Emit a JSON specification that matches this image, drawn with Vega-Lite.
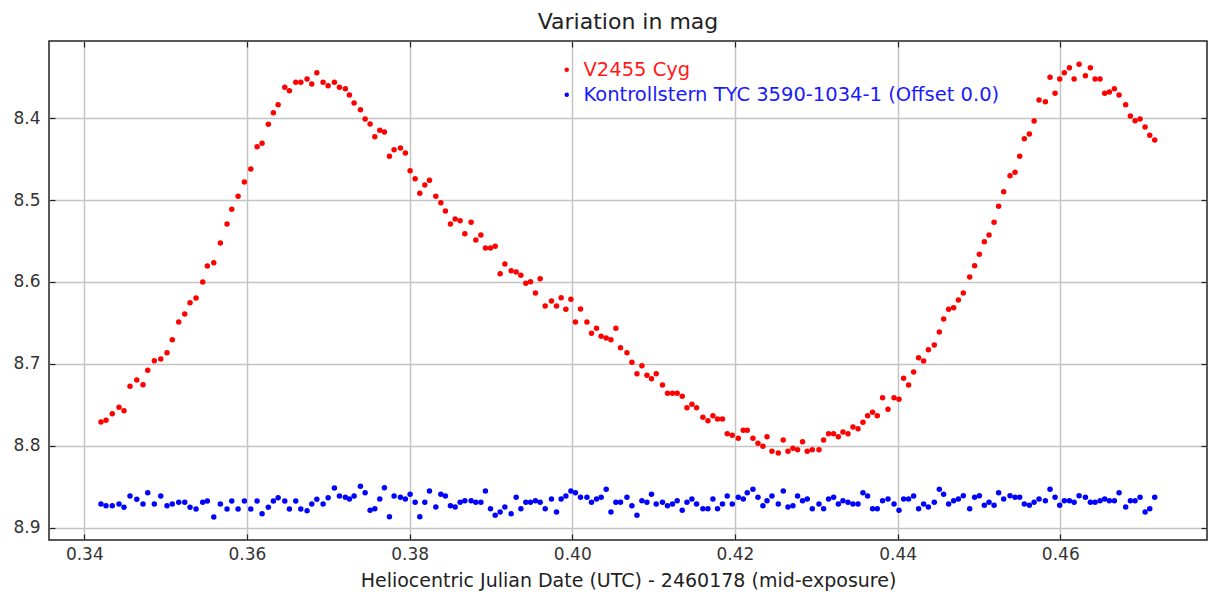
{
"$schema": "https://vega.github.io/schema/vega-lite/v6.json",
"width": 1158, "height": 499,
"autosize": {"type": "none"},
"padding": {"left": 49, "top": 41, "right": 3, "bottom": 57},
"background": "white",
"title": {"text": "Variation in mag", "font": "DejaVu Sans", "fontSize": 22, "fontWeight": "normal", "color": "#222", "offset": 6, "anchor": "middle"},
"config": {"view": {"stroke": "#222", "strokeWidth": 1.5}, "font": "DejaVu Sans"},
"data": {"values": [
{"hjd":0.34205,"var":8.7711,"chk":8.8713},{"hjd":0.34267,"var":8.7690,"chk":8.8734},{"hjd":0.34344,"var":8.7609,"chk":8.8734},{"hjd":0.34427,"var":8.7531,"chk":8.8713},{"hjd":0.34488,"var":8.7573,"chk":8.8753},{"hjd":0.34562,"var":8.7275,"chk":8.8615},{"hjd":0.34645,"var":8.7198,"chk":8.8655},{"hjd":0.34722,"var":8.7255,"chk":8.8713},{"hjd":0.34780,"var":8.7079,"chk":8.8575},{"hjd":0.34861,"var":8.6962,"chk":8.8713},
{"hjd":0.34940,"var":8.6941,"chk":8.8615},{"hjd":0.35017,"var":8.6864,"chk":8.8734},{"hjd":0.35082,"var":8.6705,"chk":8.8713},{"hjd":0.35161,"var":8.6489,"chk":8.8692},{"hjd":0.35235,"var":8.6391,"chk":8.8692},{"hjd":0.35300,"var":8.6253,"chk":8.8753},{"hjd":0.35374,"var":8.6196,"chk":8.8774},{"hjd":0.35456,"var":8.6000,"chk":8.8692},{"hjd":0.35513,"var":8.5805,"chk":8.8676},{"hjd":0.35592,"var":8.5764,"chk":8.8872},
{"hjd":0.35673,"var":8.5524,"chk":8.8713},{"hjd":0.35755,"var":8.5292,"chk":8.8774},{"hjd":0.35813,"var":8.5112,"chk":8.8676},{"hjd":0.35891,"var":8.4953,"chk":8.8774},{"hjd":0.35968,"var":8.4778,"chk":8.8676},{"hjd":0.36047,"var":8.4620,"chk":8.8774},{"hjd":0.36124,"var":8.4347,"chk":8.8676},{"hjd":0.36186,"var":8.4305,"chk":8.8831},{"hjd":0.36263,"var":8.4073,"chk":8.8753},{"hjd":0.36325,"var":8.3932,"chk":8.8676},
{"hjd":0.36383,"var":8.3834,"chk":8.8636},{"hjd":0.36465,"var":8.3621,"chk":8.8676},{"hjd":0.36522,"var":8.3663,"chk":8.8774},{"hjd":0.36600,"var":8.3560,"chk":8.8676},{"hjd":0.36662,"var":8.3560,"chk":8.8774},{"hjd":0.36739,"var":8.3520,"chk":8.8795},{"hjd":0.36797,"var":8.3581,"chk":8.8713},{"hjd":0.36859,"var":8.3443,"chk":8.8655},{"hjd":0.36936,"var":8.3560,"chk":8.8713},{"hjd":0.36998,"var":8.3602,"chk":8.8636},
{"hjd":0.37075,"var":8.3560,"chk":8.8517},{"hjd":0.37137,"var":8.3621,"chk":8.8615},{"hjd":0.37210,"var":8.3638,"chk":8.8631},{"hjd":0.37260,"var":8.3715,"chk":8.8652},{"hjd":0.37317,"var":8.3813,"chk":8.8615},{"hjd":0.37395,"var":8.3895,"chk":8.8497},{"hjd":0.37453,"var":8.4009,"chk":8.8575},{"hjd":0.37514,"var":8.4070,"chk":8.8790},{"hjd":0.37572,"var":8.4225,"chk":8.8770},{"hjd":0.37633,"var":8.4147,"chk":8.8652},
{"hjd":0.37690,"var":8.4167,"chk":8.8514},{"hjd":0.37752,"var":8.4464,"chk":8.8868},{"hjd":0.37809,"var":8.4384,"chk":8.8615},{"hjd":0.37887,"var":8.4363,"chk":8.8631},{"hjd":0.37948,"var":8.4424,"chk":8.8652},{"hjd":0.38006,"var":8.4640,"chk":8.8594},{"hjd":0.38068,"var":8.4738,"chk":8.8692},{"hjd":0.38125,"var":8.4916,"chk":8.8868},{"hjd":0.38187,"var":8.4815,"chk":8.8692},{"hjd":0.38244,"var":8.4758,"chk":8.8554},
{"hjd":0.38322,"var":8.4953,"chk":8.8750},{"hjd":0.38384,"var":8.5031,"chk":8.8594},{"hjd":0.38440,"var":8.5133,"chk":8.8615},{"hjd":0.38502,"var":8.5292,"chk":8.8734},{"hjd":0.38560,"var":8.5230,"chk":8.8750},{"hjd":0.38621,"var":8.5251,"chk":8.8692},{"hjd":0.38679,"var":8.5410,"chk":8.8673},{"hjd":0.38756,"var":8.5271,"chk":8.8673},{"hjd":0.38814,"var":8.5487,"chk":8.8692},{"hjd":0.38876,"var":8.5426,"chk":8.8692},
{"hjd":0.38932,"var":8.5585,"chk":8.8554},{"hjd":0.38994,"var":8.5585,"chk":8.8770},{"hjd":0.39052,"var":8.5564,"chk":8.8851},{"hjd":0.39113,"var":8.5899,"chk":8.8811},{"hjd":0.39171,"var":8.5780,"chk":8.8750},{"hjd":0.39248,"var":8.5862,"chk":8.8831},{"hjd":0.39310,"var":8.5878,"chk":8.8631},{"hjd":0.39368,"var":8.5918,"chk":8.8770},{"hjd":0.39429,"var":8.6016,"chk":8.8692},{"hjd":0.39486,"var":8.5997,"chk":8.8692},
{"hjd":0.39547,"var":8.6135,"chk":8.8673},{"hjd":0.39605,"var":8.5960,"chk":8.8692},{"hjd":0.39667,"var":8.6294,"chk":8.8770},{"hjd":0.39744,"var":8.6232,"chk":8.8652},{"hjd":0.39806,"var":8.6294,"chk":8.8811},{"hjd":0.39863,"var":8.6192,"chk":8.8652},{"hjd":0.39921,"var":8.6334,"chk":8.8615},{"hjd":0.39983,"var":8.6212,"chk":8.8554},{"hjd":0.40039,"var":8.6489,"chk":8.8575},{"hjd":0.40101,"var":8.6330,"chk":8.8631},
{"hjd":0.40180,"var":8.6489,"chk":8.8631},{"hjd":0.40236,"var":8.6627,"chk":8.8692},{"hjd":0.40298,"var":8.6566,"chk":8.8652},{"hjd":0.40355,"var":8.6664,"chk":8.8631},{"hjd":0.40417,"var":8.6685,"chk":8.8533},{"hjd":0.40475,"var":8.6705,"chk":8.8811},{"hjd":0.40536,"var":8.6566,"chk":8.8692},{"hjd":0.40593,"var":8.6803,"chk":8.8692},{"hjd":0.40672,"var":8.6864,"chk":8.8631},{"hjd":0.40733,"var":8.6981,"chk":8.8734},
{"hjd":0.40795,"var":8.7121,"chk":8.8851},{"hjd":0.40856,"var":8.7023,"chk":8.8673},{"hjd":0.40918,"var":8.7140,"chk":8.8692},{"hjd":0.40974,"var":8.7182,"chk":8.8594},{"hjd":0.41032,"var":8.7121,"chk":8.8713},{"hjd":0.41109,"var":8.7259,"chk":8.8692},{"hjd":0.41171,"var":8.7360,"chk":8.8734},{"hjd":0.41232,"var":8.7360,"chk":8.8713},{"hjd":0.41290,"var":8.7360,"chk":8.8673},{"hjd":0.41352,"var":8.7397,"chk":8.8790},
{"hjd":0.41410,"var":8.7536,"chk":8.8692},{"hjd":0.41471,"var":8.7495,"chk":8.8652},{"hjd":0.41528,"var":8.7536,"chk":8.8713},{"hjd":0.41606,"var":8.7654,"chk":8.8770},{"hjd":0.41668,"var":8.7695,"chk":8.8770},{"hjd":0.41729,"var":8.7634,"chk":8.8652},{"hjd":0.41786,"var":8.7674,"chk":8.8770},{"hjd":0.41847,"var":8.7674,"chk":8.8713},{"hjd":0.41905,"var":8.7854,"chk":8.8615},{"hjd":0.41967,"var":8.7873,"chk":8.8713},
{"hjd":0.42041,"var":8.7910,"chk":8.8631},{"hjd":0.42102,"var":8.7812,"chk":8.8652},{"hjd":0.42151,"var":8.7812,"chk":8.8575},{"hjd":0.42221,"var":8.7910,"chk":8.8533},{"hjd":0.42283,"var":8.7971,"chk":8.8631},{"hjd":0.42344,"var":8.8008,"chk":8.8734},{"hjd":0.42394,"var":8.7891,"chk":8.8673},{"hjd":0.42455,"var":8.8069,"chk":8.8615},{"hjd":0.42533,"var":8.8090,"chk":8.8713},{"hjd":0.42594,"var":8.7931,"chk":8.8554},
{"hjd":0.42652,"var":8.8069,"chk":8.8750},{"hjd":0.42713,"var":8.8032,"chk":8.8734},{"hjd":0.42770,"var":8.8049,"chk":8.8615},{"hjd":0.42831,"var":8.7952,"chk":8.8673},{"hjd":0.42889,"var":8.8069,"chk":8.8652},{"hjd":0.42951,"var":8.8049,"chk":8.8770},{"hjd":0.43033,"var":8.8049,"chk":8.8713},{"hjd":0.43090,"var":8.7931,"chk":8.8770},{"hjd":0.43151,"var":8.7854,"chk":8.8652},{"hjd":0.43213,"var":8.7854,"chk":8.8631},
{"hjd":0.43271,"var":8.7891,"chk":8.8713},{"hjd":0.43328,"var":8.7833,"chk":8.8673},{"hjd":0.43390,"var":8.7854,"chk":8.8692},{"hjd":0.43451,"var":8.7772,"chk":8.8713},{"hjd":0.43513,"var":8.7793,"chk":8.8713},{"hjd":0.43574,"var":8.7715,"chk":8.8575},{"hjd":0.43631,"var":8.7634,"chk":8.8615},{"hjd":0.43692,"var":8.7592,"chk":8.8770},{"hjd":0.43750,"var":8.7634,"chk":8.8770},{"hjd":0.43815,"var":8.7414,"chk":8.8673},
{"hjd":0.43882,"var":8.7556,"chk":8.8652},{"hjd":0.43956,"var":8.7414,"chk":8.8713},{"hjd":0.44017,"var":8.7434,"chk":8.8790},{"hjd":0.44074,"var":8.7177,"chk":8.8652},{"hjd":0.44135,"var":8.7259,"chk":8.8652},{"hjd":0.44197,"var":8.7100,"chk":8.8615},{"hjd":0.44258,"var":8.6925,"chk":8.8770},{"hjd":0.44320,"var":8.6966,"chk":8.8713},{"hjd":0.44378,"var":8.6828,"chk":8.8750},{"hjd":0.44451,"var":8.6770,"chk":8.8692},
{"hjd":0.44513,"var":8.6611,"chk":8.8533},{"hjd":0.44566,"var":8.6452,"chk":8.8594},{"hjd":0.44627,"var":8.6334,"chk":8.8713},{"hjd":0.44689,"var":8.6314,"chk":8.8673},{"hjd":0.44747,"var":8.6220,"chk":8.8652},{"hjd":0.44808,"var":8.6135,"chk":8.8611},{"hjd":0.44886,"var":8.5939,"chk":8.8770},{"hjd":0.44947,"var":8.5801,"chk":8.8631},{"hjd":0.45005,"var":8.5662,"chk":8.8611},{"hjd":0.45066,"var":8.5508,"chk":8.8729},
{"hjd":0.45124,"var":8.5426,"chk":8.8692},{"hjd":0.45186,"var":8.5271,"chk":8.8729},{"hjd":0.45242,"var":8.5075,"chk":8.8575},{"hjd":0.45304,"var":8.4897,"chk":8.8652},{"hjd":0.45382,"var":8.4701,"chk":8.8611},{"hjd":0.45444,"var":8.4660,"chk":8.8631},{"hjd":0.45501,"var":8.4464,"chk":8.8631},{"hjd":0.45558,"var":8.4249,"chk":8.8713},{"hjd":0.45620,"var":8.4192,"chk":8.8729},{"hjd":0.45678,"var":8.4033,"chk":8.8692},
{"hjd":0.45739,"var":8.3776,"chk":8.8652},{"hjd":0.45817,"var":8.3797,"chk":8.8673},{"hjd":0.45874,"var":8.3499,"chk":8.8533},{"hjd":0.45936,"var":8.3695,"chk":8.8631},{"hjd":0.45993,"var":8.3520,"chk":8.8729},{"hjd":0.46050,"var":8.3443,"chk":8.8673},{"hjd":0.46112,"var":8.3382,"chk":8.8673},{"hjd":0.46170,"var":8.3520,"chk":8.8692},{"hjd":0.46231,"var":8.3340,"chk":8.8611},{"hjd":0.46309,"var":8.3479,"chk":8.8631},
{"hjd":0.46370,"var":8.3382,"chk":8.8692},{"hjd":0.46428,"var":8.3520,"chk":8.8692},{"hjd":0.46489,"var":8.3520,"chk":8.8673},{"hjd":0.46546,"var":8.3695,"chk":8.8652},{"hjd":0.46604,"var":8.3679,"chk":8.8673},{"hjd":0.46665,"var":8.3638,"chk":8.8673},{"hjd":0.46723,"var":8.3715,"chk":8.8575},{"hjd":0.46804,"var":8.3834,"chk":8.8750},{"hjd":0.46862,"var":8.3972,"chk":8.8673},{"hjd":0.46920,"var":8.4029,"chk":8.8673},
{"hjd":0.46981,"var":8.4009,"chk":8.8631},{"hjd":0.47043,"var":8.4106,"chk":8.8811},{"hjd":0.47100,"var":8.4208,"chk":8.8770},{"hjd":0.47161,"var":8.4265,"chk":8.8631}
]},
"transform": [{"fold": ["var", "chk"], "as": ["star", "mag"]}],
"layer": [
 {
  "mark": {"type": "point", "filled": true, "shape": "circle", "size": 30, "opacity": 1, "strokeWidth": 0},
  "encoding": {
   "x": {"field": "hjd", "type": "quantitative",
     "scale": {"domain": [0.33566, 0.47804], "nice": false, "zero": false},
     "axis": {"orient": "bottom", "values": [0.34, 0.36, 0.38, 0.40, 0.42, 0.44, 0.46], "format": ".2f",
       "title": "Heliocentric Julian Date (UTC) - 2460178 (mid-exposure)",
       "grid": true, "gridColor": "#c4c4c4", "gridWidth": 1.5, "domain": false,
       "tickSize": -6, "tickColor": "#222", "tickWidth": 1.2, "labelFlush": false,
       "labelFont": "DejaVu Sans", "labelFontSize": 17, "labelColor": "#333", "labelPadding": 12,
       "titleFont": "DejaVu Sans", "titleFontSize": 19, "titleFontWeight": "normal", "titleColor": "#222", "titlePadding": 9}},
   "y": {"field": "mag", "type": "quantitative",
     "scale": {"domain": [8.30555, 8.91527], "reverse": true, "nice": false, "zero": false},
     "axis": {"orient": "left", "values": [8.4, 8.5, 8.6, 8.7, 8.8, 8.9], "format": ".1f", "title": null,
       "grid": true, "gridColor": "#c4c4c4", "gridWidth": 1.5, "domain": false,
       "tickSize": -6, "tickColor": "#222", "tickWidth": 1.2, "labelFlush": false,
       "labelFont": "DejaVu Sans", "labelFontSize": 17, "labelColor": "#333", "labelPadding": 15}},
   "color": {"field": "star", "type": "nominal",
     "scale": {"domain": ["var", "chk"], "range": ["#ff0000", "#0000ff"]},
     "legend": {"orient": "none", "legendX": 508, "legendY": 19, "title": null, "padding": 0,
       "labelExpr": "datum.value == 'var' ? 'V2455 Cyg' : 'Kontrollstern TYC 3590-1034-1 (Offset 0.0)'",
       "labelFont": "DejaVu Sans", "labelFontSize": 19.5, "labelLimit": 700,
       "labelColor": {"expr": "datum.value == 'var' ? '#ff1a1a' : '#1a1aff'"},
       "symbolType": "circle", "symbolSize": 20, "symbolStrokeWidth": 0, "labelOffset": 7, "rowPadding": 4}}
  }
 },
 {
  "mark": {"type": "point", "opacity": 0},
  "encoding": {
   "x": {"field": "hjd", "type": "quantitative",
     "axis": {"orient": "top", "values": [0.34, 0.36, 0.38, 0.40, 0.42, 0.44, 0.46], "labels": false, "title": null,
       "grid": false, "domain": false, "tickSize": -6, "tickColor": "#222", "tickWidth": 1.2}},
   "y": {"field": "mag", "type": "quantitative",
     "axis": {"orient": "right", "values": [8.4, 8.5, 8.6, 8.7, 8.8, 8.9], "labels": false, "title": null,
       "grid": false, "domain": false, "tickSize": -6, "tickColor": "#222", "tickWidth": 1.2}}
  }
 }
],
"resolve": {"axis": {"x": "independent", "y": "independent"}}
}
